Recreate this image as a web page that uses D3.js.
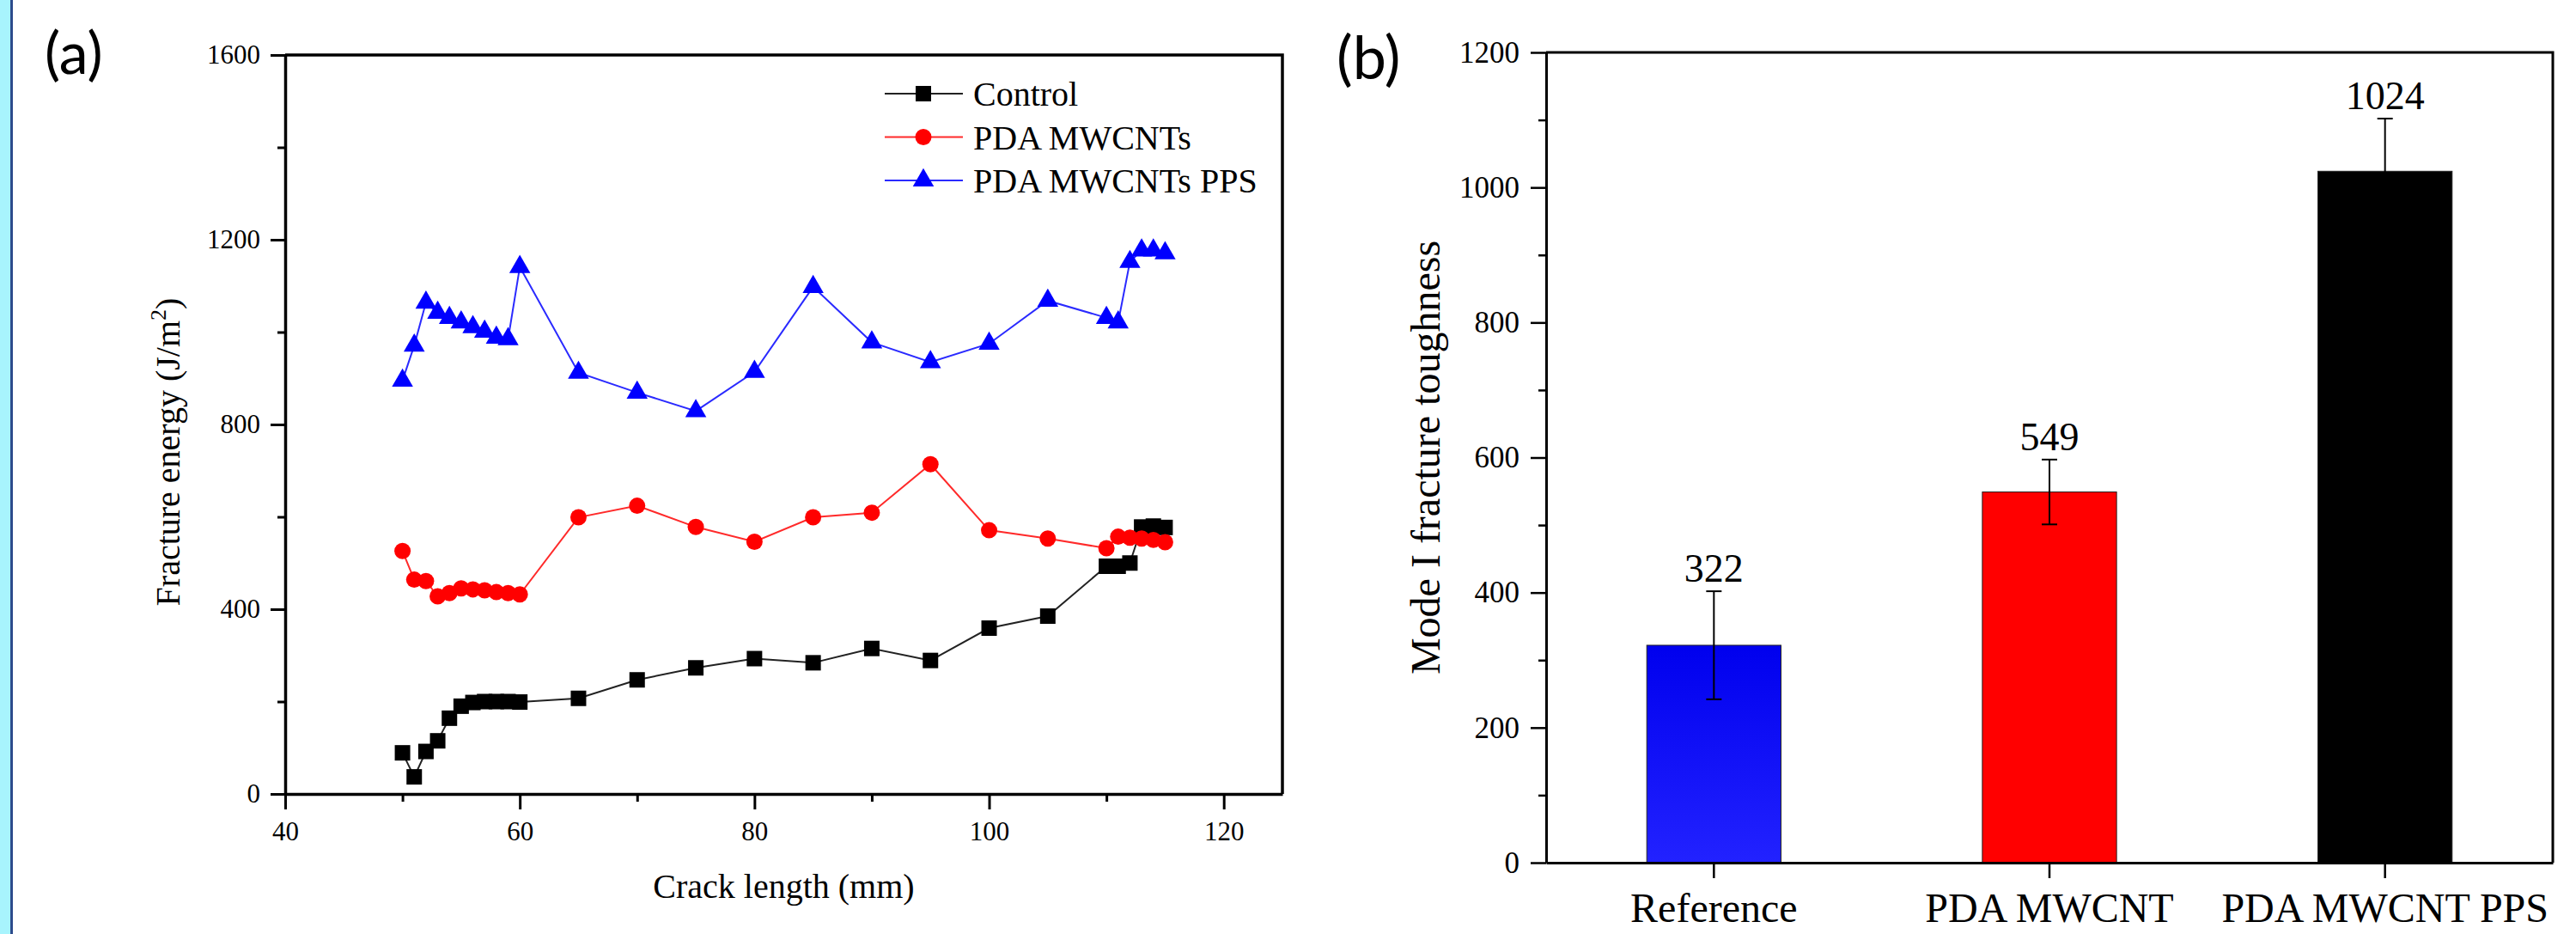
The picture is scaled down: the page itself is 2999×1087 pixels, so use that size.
<!DOCTYPE html>
<html lang="en">
<head>
<meta charset="UTF-8">
<title>Fracture energy and toughness</title>
<script src="https://cdn.jsdelivr.net/npm/d3@7"></script>
<style>
    body { margin: 0; background: #fff; }
    svg { display: block; }
    .axis path, .axis line { stroke: #000; }
    .axis text { font-family: "Liberation Serif", "Times New Roman", serif; fill: #000; }
</style>
</head>
<body>
<svg id="fig" width="2999" height="1087"></svg>
<script>
// panel (a) data
var crackLength = [50, 51, 52, 53, 54, 55, 56, 57, 58, 59, 60, 65, 70, 75, 80, 85, 90, 95, 100, 105, 110, 111, 112, 113, 114, 115];
var control = [89, 37, 92, 115, 164, 190, 198, 200, 200, 200, 199, 207, 247, 273, 293, 284, 315, 289, 359, 385, 493, 493, 500, 578, 580, 577];
var pdaMwcnts = [526, 464, 461, 428, 435, 445, 443, 441, 437, 435, 432, 599, 624, 578, 546, 599, 609, 714, 571, 553, 532, 557, 555, 553, 550, 545];
var pdaMwcntsPps = [895, 971, 1064, 1042, 1031, 1021, 1011, 1001, 988, 985, 1141, 912, 869, 829, 914, 1098, 978, 935, 975, 1068, 1031, 1021, 1152, 1177, 1177, 1171];
var seriesNames = ["Control", "PDA MWCNTs", "PDA MWCNTs PPS"];
var xTicksA = [40, 60, 80, 100, 120];
var yTicksA = [0, 400, 800, 1200, 1600];

// panel (b) data
var samples = ["Reference", "PDA MWCNT", "PDA MWCNT PPS"];
var toughness = [322, 549, 1024];
var toughnessErr = [80, 48, 78];
var yTicksB = [0, 200, 400, 600, 800, 1000, 1200];

var svg = d3.select("#fig");
var serif = '"Liberation Serif", "Times New Roman", serif';
var plain = d3.format("d");

// cyan strip at the left edge
svg.append("rect").attr("x", 0).attr("y", 0).attr("width", 12).attr("height", 1087).attr("fill", "#a8f4fd");
svg.append("rect").attr("x", 12).attr("y", 0).attr("width", 3).attr("height", 1087).attr("fill", "#2c4c8c");

// ---------- panel (a) ----------
var a = { left: 332, right: 1493, top: 64, bottom: 924 };
var xA = d3.scaleLinear().domain([40, 125]).range([a.left, a.right]);
var yA = d3.scaleLinear().domain([0, 1600]).range([a.bottom, a.top]);

var gA = svg.append("g");

// minor ticks
gA.append("g").attr("class", "axis")
    .attr("transform", "translate(0," + a.bottom + ")")
    .call(d3.axisBottom(xA).tickValues([50, 70, 90, 110]).tickSize(9).tickSizeOuter(0).tickFormat(""))
    .call(function (g) { g.select(".domain").remove(); g.selectAll("line").attr("stroke-width", 3); });
gA.append("g").attr("class", "axis")
    .attr("transform", "translate(" + a.left + ",0)")
    .call(d3.axisLeft(yA).tickValues([200, 600, 1000, 1400]).tickSize(9).tickSizeOuter(0).tickFormat(""))
    .call(function (g) { g.select(".domain").remove(); g.selectAll("line").attr("stroke-width", 3); });

// major ticks
gA.append("g").attr("class", "axis")
    .attr("transform", "translate(0," + a.bottom + ")")
    .call(d3.axisBottom(xA).tickValues(xTicksA).tickFormat(plain).tickSize(18).tickSizeOuter(0).tickPadding(14))
    .call(function (g) {
        g.select(".domain").attr("stroke-width", 3.5);
        g.selectAll("line").attr("stroke-width", 3);
        g.selectAll("text").attr("font-size", 31);
    });
gA.append("g").attr("class", "axis")
    .attr("transform", "translate(" + a.left + ",0)")
    .call(d3.axisLeft(yA).tickValues(yTicksA).tickFormat(plain).tickSize(17).tickSizeOuter(0).tickPadding(12))
    .call(function (g) {
        g.select(".domain").attr("stroke-width", 3.5);
        g.selectAll("line").attr("stroke-width", 3);
        g.selectAll("text").attr("font-size", 31);
    });
// top and right frame
gA.append("path")
    .attr("d", "M" + a.left + "," + a.top + "H" + a.right + "V" + a.bottom)
    .attr("fill", "none").attr("stroke", "#000").attr("stroke-width", 3.5);

// axis titles
gA.append("text")
    .attr("x", (a.left + a.right) / 2).attr("y", 1045)
    .attr("text-anchor", "middle").attr("font-family", serif).attr("font-size", 40)
    .text("Crack length (mm)");
var yTitleA = gA.append("text")
    .attr("transform", "translate(209," + 526 + ") rotate(-90)")
    .attr("text-anchor", "middle").attr("font-family", serif).attr("font-size", 40);
yTitleA.append("tspan").text("Fracture energy (J/m");
yTitleA.append("tspan").attr("font-size", 26).attr("dy", -16).text("2");
yTitleA.append("tspan").attr("dy", 16).text(")");

// series
var seriesA = [
    { name: seriesNames[0], values: control, line: "#222", fill: "#000", symbol: d3.symbolSquare, size: 324 },
    { name: seriesNames[1], values: pdaMwcnts, line: "#ff2a2a", fill: "#ff0000", symbol: d3.symbolCircle, size: 283 },
    { name: seriesNames[2], values: pdaMwcntsPps, line: "#2a2aff", fill: "#0000ff", symbol: d3.symbolTriangle, size: 260 }
];
var lineA = d3.line()
    .x(function (d) { return xA(d[0]); })
    .y(function (d) { return yA(d[1]); });

seriesA.forEach(function (s) {
    var pts = crackLength.map(function (c, i) { return [c, s.values[i]]; });
    gA.append("path").datum(pts)
        .attr("d", lineA).attr("fill", "none").attr("stroke", s.line).attr("stroke-width", 2);
    gA.selectAll(null).data(pts).enter().append("path")
        .attr("transform", function (d) { return "translate(" + xA(d[0]) + "," + yA(d[1]) + ")"; })
        .attr("d", d3.symbol().type(s.symbol).size(s.size))
        .attr("fill", s.fill);
});

// legend
var legend = gA.append("g");
seriesA.forEach(function (s, i) {
    var cy = 109 + i * 50.5;
    legend.append("line").attr("x1", 1030).attr("x2", 1121).attr("y1", cy).attr("y2", cy)
        .attr("stroke", s.line).attr("stroke-width", 2);
    legend.append("path").attr("transform", "translate(1075," + cy + ")")
        .attr("d", d3.symbol().type(s.symbol).size(s.size)).attr("fill", s.fill);
    legend.append("text").attr("x", 1133).attr("y", cy + 14)
        .attr("font-family", serif).attr("font-size", 40).text(s.name);
});

// panel label
svg.append("text").attr("x", 52).attr("y", 86)
    .attr("font-family", "Lato, 'Open Sans', sans-serif").attr("font-size", 68).text("(a)");

// ---------- panel (b) ----------
var b = { left: 1800, right: 2972, top: 61, bottom: 1004 };
var xB = d3.scaleBand().domain(samples).range([b.left, b.right]).paddingInner(0.6).paddingOuter(0.3);
var yB = d3.scaleLinear().domain([0, 1200]).range([b.bottom, b.top]);
var barColors = ["#0a0af5", "#ff0000", "#000000"];

var gB = svg.append("g");

var defs = svg.append("defs");
var grad = defs.append("linearGradient").attr("id", "blueBar").attr("x1", 0).attr("x2", 0).attr("y1", 0).attr("y2", 1);
grad.append("stop").attr("offset", "0%").attr("stop-color", "#0000ee");
grad.append("stop").attr("offset", "100%").attr("stop-color", "#2222ff");

gB.selectAll(".bar").data(toughness).enter().append("rect")
    .attr("class", "bar")
    .attr("x", function (d, i) { return xB(samples[i]); })
    .attr("y", function (d) { return yB(d); })
    .attr("width", xB.bandwidth())
    .attr("height", function (d) { return yB(0) - yB(d); })
    .attr("fill", function (d, i) { return i === 0 ? "url(#blueBar)" : barColors[i]; })
    .attr("stroke", "#222").attr("stroke-width", 1);

// error bars
var errG = gB.selectAll(".err").data(toughness).enter().append("g").attr("class", "err")
    .attr("transform", function (d, i) { return "translate(" + (xB(samples[i]) + xB.bandwidth() / 2) + ",0)"; });
errG.append("line")
    .attr("y1", function (d, i) { return yB(d + toughnessErr[i]); })
    .attr("y2", function (d, i) { return yB(d - toughnessErr[i]); })
    .attr("stroke", "#000").attr("stroke-width", 2);
errG.append("line").attr("x1", -9).attr("x2", 9)
    .attr("y1", function (d, i) { return yB(d + toughnessErr[i]); })
    .attr("y2", function (d, i) { return yB(d + toughnessErr[i]); })
    .attr("stroke", "#000").attr("stroke-width", 2);
errG.append("line").attr("x1", -9).attr("x2", 9)
    .attr("y1", function (d, i) { return yB(d - toughnessErr[i]); })
    .attr("y2", function (d, i) { return yB(d - toughnessErr[i]); })
    .attr("stroke", "#000").attr("stroke-width", 2);
errG.append("text")
    .attr("y", function (d, i) { return yB(d + toughnessErr[i]) - 11; })
    .attr("text-anchor", "middle").attr("font-family", serif).attr("font-size", 46)
    .text(function (d) { return d; });

// axes
gB.append("g").attr("class", "axis")
    .attr("transform", "translate(" + b.left + ",0)")
    .call(d3.axisLeft(yB).tickValues([100, 300, 500, 700, 900, 1100]).tickSize(9).tickSizeOuter(0).tickFormat(""))
    .call(function (g) { g.select(".domain").remove(); g.selectAll("line").attr("stroke-width", 2.5); });
gB.append("g").attr("class", "axis")
    .attr("transform", "translate(" + b.left + ",0)")
    .call(d3.axisLeft(yB).tickValues(yTicksB).tickFormat(plain).tickSize(18).tickSizeOuter(0).tickPadding(13))
    .call(function (g) {
        g.select(".domain").attr("stroke-width", 3);
        g.selectAll("line").attr("stroke-width", 2.5);
        g.selectAll("text").attr("font-size", 35);
    });
gB.append("g").attr("class", "axis")
    .attr("transform", "translate(0," + b.bottom + ")")
    .call(d3.axisBottom(xB).tickSize(18).tickSizeOuter(0).tickPadding(14))
    .call(function (g) {
        g.select(".domain").attr("stroke-width", 3);
        g.selectAll("line").attr("stroke-width", 2.5);
        g.selectAll("text").attr("font-size", 48).attr("dy", "0.78em");
    });
gB.append("path")
    .attr("d", "M" + b.left + "," + b.top + "H" + b.right + "V" + b.bottom)
    .attr("fill", "none").attr("stroke", "#000").attr("stroke-width", 3);

gB.append("text")
    .attr("transform", "translate(1676," + ((b.top + b.bottom) / 2) + ") rotate(-90)")
    .attr("text-anchor", "middle").attr("font-family", serif).attr("font-size", 48)
    .text("Mode I fracture toughness");

svg.append("text").attr("x", 1556).attr("y", 92)
    .attr("font-family", "Lato, 'Open Sans', sans-serif").attr("font-size", 70).text("(b)");
</script>
</body>
</html>
